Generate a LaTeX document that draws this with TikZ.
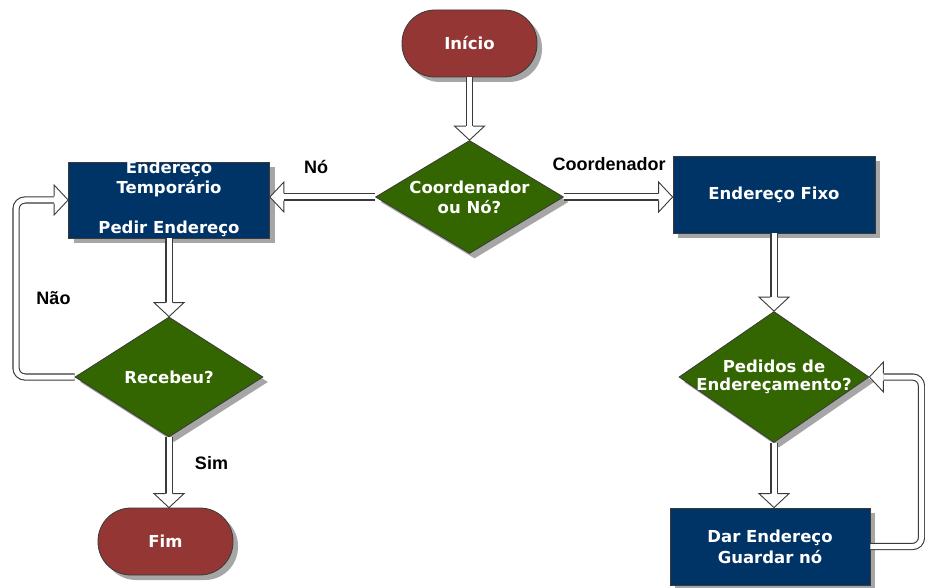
\documentclass[tikz,border=0pt]{standalone}
\usepackage{fontspec}
\setmainfont{DejaVu Sans}
\newfontfamily\labelfont{Liberation Sans}
\usetikzlibrary{shapes.geometric,shadows,calc}

\definecolor{termred}{HTML}{943634}
\definecolor{procblue}{HTML}{003366}
\definecolor{decgreen}{HTML}{336600}
\definecolor{edgegray}{HTML}{3A3A3A}
\definecolor{shadowgray}{HTML}{A6A6A6}

\tikzset{
  base/.style={draw=edgegray, line width=0.8pt, inner sep=0pt,
    drop shadow={shadow xshift=5pt, shadow yshift=-5pt, fill=shadowgray, opacity=1}},
  terminal/.style={base, fill=termred, rectangle, rounded corners=33pt,
    minimum width=135pt, minimum height=67pt},
  process/.style={base, fill=procblue, rectangle},
  decision/.style={base, fill=decgreen, diamond},
  nodetext/.style={text=white, align=center, inner sep=0pt,
    font=\fontsize{16.5}{20}\selectfont\bfseries},
  edgelabel/.style={text=black, inner sep=0pt,
    font=\labelfont\fontsize{18}{20}\selectfont\bfseries},
  shaft/.style={draw=edgegray, line width=1.1pt, double=white, double distance=5pt},
  looptrack/.style={shaft, rounded corners=9pt},
  hhead/.pic={
    \filldraw[draw=edgegray, fill=white, line width=0.9pt, line join=miter]
      (-14,3.6) -- (-14,15) -- (0,0) -- (-14,-15) -- (-14,-3.6);
  }
}

\begin{document}
\begin{tikzpicture}[x=1pt,y=1pt]
\fill[white] (0,0) rectangle (925,587);
\useasboundingbox (0,0) rectangle (925,587);

% start / end terminals
\node[terminal] (ini) at (469.5,543.5) {};
\node[nodetext] (ini-t) at (ini) {Início};
\node[terminal] (fim) at (165.5,45.5) {};
\node[nodetext] (fim-t) at (fim) {Fim};

% decisions
\node[decision, minimum width=188pt, minimum height=113pt] (d1) at (469.5,390) {};
\node[nodetext] (d1-t) at (d1) {Coordenador\\ou Nó?};
\node[decision, minimum width=188pt, minimum height=120pt] (rec) at (169,210) {};
\node[nodetext] (rec-t) at (rec) {Recebeu?};
\node[decision, minimum width=190pt, minimum height=131pt] (d2) at (774,210) {};
\node[nodetext, font=\fontsize{16.5}{18.5}\selectfont\bfseries] (d2-t) at (d2) {Pedidos de\\Endereçamento?};

% processes
\node[process, minimum width=201pt, minimum height=76pt] (tmp) at (169,387) {};
\node[nodetext] (tmp-t) at ([yshift=1pt]tmp.center) {Endereço\\Temporário\\[20pt]Pedir Endereço};
\node[process, minimum width=202pt, minimum height=77pt] (fix) at (774,392.5) {};
\node[nodetext] (fix-t) at (fix) {Endereço Fixo};
\node[process, minimum width=200pt, minimum height=77pt] (dar) at (770,40.5) {};
\node[nodetext, font=\fontsize{16.5}{21}\selectfont\bfseries] (dar-t) at (dar) {Dar Endereço\\Guardar nó};

% branch labels
\node[edgelabel] (l-no) at (316,420) {Nó};
\node[edgelabel] (l-co) at (609,422.5) {Coordenador};
\node[edgelabel] (l-nao) at (53.5,288.5) {Não};
\node[edgelabel] (l-sim) at (211.5,123.5) {Sim};

% loop turning points
\coordinate (lx) at (16,0);
\coordinate (rx) at (921.5,0);

% straight connectors
\draw[shaft] (ini.south) -- ([yshift=14pt]d1.north);
\pic[rotate=-90] at (d1.north) {hhead};

\draw[shaft] (d1.west) -- ([xshift=14pt]d1.west -| tmp.east);
\pic[rotate=180] at (d1.west -| tmp.east) {hhead};

\draw[shaft] (d1.east) -- ([xshift=-14pt]d1.east -| fix.west);
\pic at (d1.east -| fix.west) {hhead};

\draw[shaft] (fix.south) -- ([yshift=14pt]d2.north);
\pic[rotate=-90] at (d2.north) {hhead};

\draw[shaft] (d2.south) -- ([yshift=14pt]d2.south |- dar.north);
\pic[rotate=-90] at (d2.south |- dar.north) {hhead};

\draw[shaft] (tmp.south) -- ([yshift=14pt]rec.north);
\pic[rotate=-90] at (rec.north) {hhead};

\draw[shaft] (rec.south) -- ([yshift=14pt]rec.south |- fim.north);
\pic[rotate=-90] at (rec.south |- fim.north) {hhead};

% loops
\draw[looptrack] (rec.west) -- (rec.west -| lx) |- ([xshift=-14pt]tmp.west);
\pic at (tmp.west) {hhead};

\draw[looptrack] (dar.east) -- (dar.east -| rx) |- ([xshift=14pt]d2.east);
\pic[rotate=180] at (d2.east) {hhead};
\end{tikzpicture}
\end{document}
